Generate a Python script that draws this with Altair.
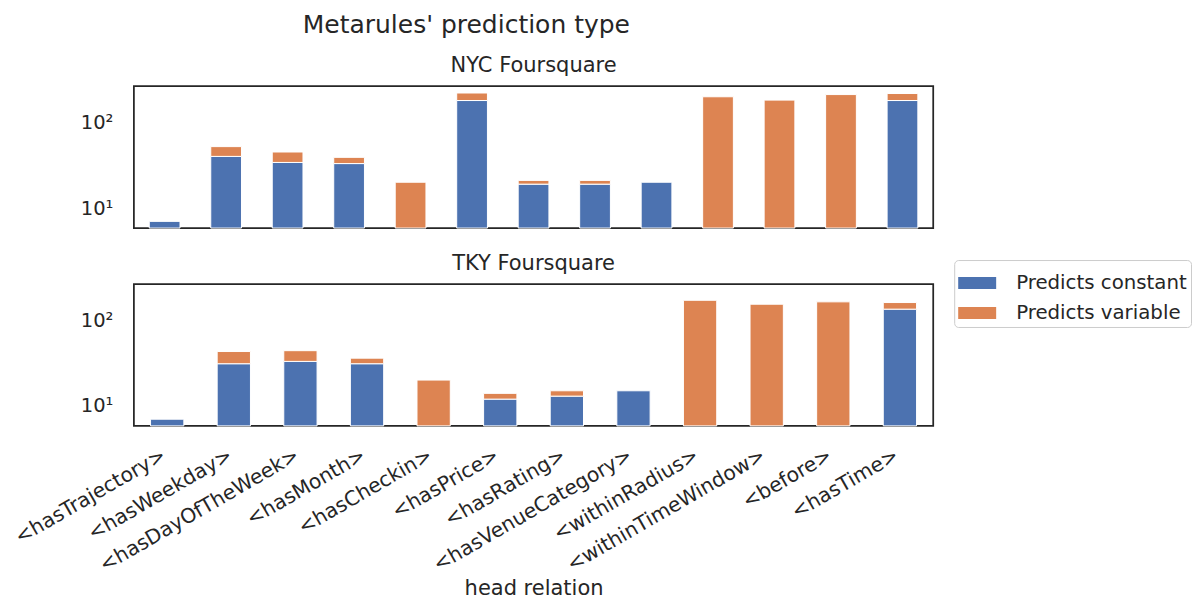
import altair as alt
import pandas as pd

relations = ["<hasTrajectory>", "<hasWeekday>", "<hasDayOfTheWeek>", "<hasMonth>",
             "<hasCheckin>", "<hasWeather>", "<hasPrice>", "<hasRating>",
             "<hasVenueCategory>", "<withinRadius>", "<withinTimeWindow>",
             "<before>", "<hasTime>"]

nyc_constant = [7, 40, 34, 33, 0, 179, 19, 19, 20, 0, 0, 0, 179]
nyc_variable = [0, 12, 11, 6, 20, 40, 2, 2, 0, 198, 181, 210, 37]
tky_constant = [7, 31, 33, 31, 0, 0, 12, 13, 15, 0, 0, 0, 134]
tky_variable = [0, 12, 11, 5, 20, 0, 2, 2, 0, 170, 153, 163, 26]

types = ["Predicts constant", "Predicts variable"]
colors = ["#4c72b0", "#dd8452"]
FONT = "DejaVu Sans"
TXT = "#262626"


def build(const, var):
    rows = []
    for r, c, v in zip(relations, const, var):
        if c > 0:
            rows.append({"relation": r, "type": types[0], "lo": 1, "hi": c})
        if v > 0:
            rows.append({"relation": r, "type": types[1], "lo": c if c > 0 else 1, "hi": c + v})
    return pd.DataFrame(rows)


yscale = alt.Scale(type="log", domain=[5.85, 263], clamp=True, nice=False)
xscale = alt.Scale(paddingInner=0.5, paddingOuter=0.25)
yaxis = alt.Axis(values=[10, 100], labelExpr="datum.value >= 100 ? '10²' : '10¹'",
                 title=None, grid=False, ticks=False, domain=False,
                 labelFontSize=19.5, labelPadding=21, labelColor=TXT, labelFont=FONT)
color = alt.Color("type:N", scale=alt.Scale(domain=types, range=colors),
                  legend=alt.Legend(title=None, orient="none", legendX=821, legendY=174,
                                    symbolType="M-1,-0.32L1,-0.32L1,0.32L-1,0.32Z",
                                    symbolSize=1444, symbolStrokeWidth=0,
                                    labelFontSize=19.8, labelFont=FONT, labelColor=TXT,
                                    labelLimit=400,
                                    labelOffset=20, padding=4, rowPadding=1,
                                    strokeColor="#cccccc", cornerRadius=4,
                                    fillColor="white"))


def panel(df, title, show_x):
    if show_x:
        xaxis = alt.Axis(title="head relation", labelAngle=-30, labelAlign="right",
                         labelBaseline="top", labelPadding=19, labelOffset=-8,
                         labelFontSize=20.3, labelFont=FONT, labelColor=TXT,
                         labelLimit=400, labelOverlap=False, ticks=False, domain=False,
                         grid=False, titleFontSize=21, titleFont=FONT,
                         titleFontWeight="normal", titleColor=TXT, titlePadding=2)
    else:
        xaxis = None
    return alt.Chart(df).mark_bar(stroke="white", strokeWidth=1).encode(
        x=alt.X("relation:N", sort=relations, scale=xscale, axis=xaxis),
        y=alt.Y("lo:Q", scale=yscale, axis=yaxis),
        y2="hi:Q",
        color=color,
    ).properties(
        width=800, height=142,
        title=alt.TitleParams(title, fontSize=21, font=FONT, fontWeight="normal",
                              color=TXT, anchor="middle", frame="group", offset=10),
    )


top = panel(build(nyc_constant, nyc_variable), "NYC Foursquare", False)
bottom = panel(build(tky_constant, tky_variable), "TKY Foursquare", True)

chart = alt.vconcat(top, bottom, spacing=22).properties(
    title=alt.TitleParams("Metarules' prediction type", fontSize=25, font=FONT,
                          fontWeight="normal", color=TXT, anchor="start",
                          frame="group", dx=169, offset=16),
    padding={"left": 2, "top": 5, "right": 0, "bottom": 0},
    background="white",
).configure_view(stroke=TXT, strokeWidth=1.75)

chart.save("out.html", embed_options={"renderer": "svg", "actions": False})
